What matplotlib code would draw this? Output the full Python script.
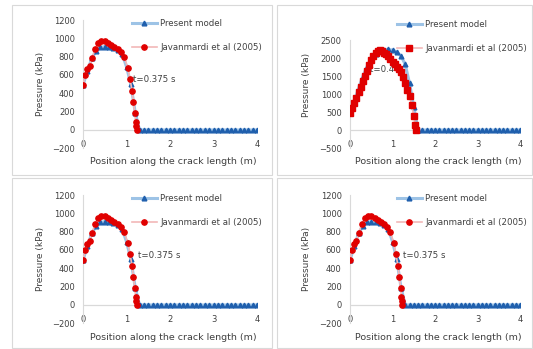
import matplotlib
matplotlib.use("Agg")
import matplotlib.pyplot as plt
from matplotlib.patches import Rectangle

# ---- data (kPa vs m) ----
# t = 0.375 s panels
model_x_a = [0.0, 0.1, 0.2, 0.3, 0.4, 0.5, 0.6, 0.7, 0.8, 0.9, 1.0, 1.1, 1.2, 1.3, 1.4,
             1.5, 1.6, 1.7, 1.8, 1.9, 2.0, 2.1, 2.2, 2.3, 2.4, 2.5, 2.6, 2.7, 2.8, 2.9,
             3.0, 3.1, 3.2, 3.3, 3.4, 3.5, 3.6, 3.7, 3.8, 3.9, 4.0]
model_p_a = [490, 640, 780, 860, 900, 910, 905, 895, 875, 830, 690, 500, 190, 0, 0,
             0, 0, 0, 0, 0, 0, 0, 0, 0, 0, 0, 0, 0, 0, 0,
             0, 0, 0, 0, 0, 0, 0, 0, 0, 0, 0]
ref_x_a = [0.0, 0.05, 0.1, 0.15, 0.2, 0.28, 0.35, 0.42, 0.5, 0.58, 0.65, 0.72, 0.8,
           0.88, 0.95, 1.03, 1.08, 1.13, 1.16, 1.19, 1.21, 1.22, 1.23]
ref_p_a = [490, 600, 660, 700, 780, 880, 950, 975, 970, 945, 925, 910, 880,
           850, 800, 675, 560, 420, 305, 185, 90, 40, 0]

# t = 0.4 s panel
model_x_b = [0.0, 0.1, 0.2, 0.3, 0.4, 0.5, 0.6, 0.7, 0.8, 0.9, 1.0, 1.1, 1.2, 1.3, 1.4,
             1.5, 1.6, 1.7, 1.8, 1.9, 2.0, 2.1, 2.2, 2.3, 2.4, 2.5, 2.6, 2.7, 2.8, 2.9,
             3.0, 3.1, 3.2, 3.3, 3.4, 3.5, 3.6, 3.7, 3.8, 3.9, 4.0]
model_p_b = [480, 800, 1150, 1480, 1760, 1980, 2120, 2200, 2230, 2240, 2220, 2170, 2060, 1820, 1300,
             650, 0, 0, 0, 0, 0, 0, 0, 0, 0, 0, 0, 0, 0, 0,
             0, 0, 0, 0, 0, 0, 0, 0, 0, 0, 0]
ref_x_b = [0.0, 0.05, 0.1, 0.15, 0.2, 0.25, 0.3, 0.35, 0.4, 0.45, 0.5, 0.55, 0.6, 0.65,
           0.7, 0.75, 0.8, 0.85, 0.9, 0.95, 1.0, 1.05, 1.1, 1.15, 1.2, 1.25, 1.3, 1.35,
           1.4, 1.45, 1.5, 1.53, 1.55]
ref_p_b = [480, 620, 760, 900, 1050, 1200, 1350, 1500, 1650, 1800, 1950, 2060, 2140, 2190,
           2220, 2200, 2150, 2100, 2050, 1980, 1900, 1830, 1760, 1700, 1600, 1480, 1300, 1120,
           950, 700, 400, 150, 0]

x_ticks = [0, 1, 2, 3, 4]
legend_labels = ["Present model", "Javanmardi et al (2005)"]
xlabel = "Position along the crack length (m)"
ylabel = "Pressure (kPa)"

W, H = 533, 349
fig = plt.figure(figsize=(W / 100, H / 100), dpi=100)
plt.rcParams['font.family'] = 'DejaVu Sans'
txt = '#404040'
grey = '#D9D9D9'


def px_axes(l, t, r, b):
    return fig.add_axes([l / W, 1 - b / H, (r - l) / W, (b - t) / H])


# chart area borders
for (l, t, r, b) in [(12, 5, 272, 175), (277, 5, 532, 175),
                     (12, 178, 272, 348), (277, 178, 532, 348)]:
    fig.add_artist(Rectangle((l / W, 1 - b / H), (r - l) / W, (b - t) / H,
                             transform=fig.transFigure, fill=False,
                             edgecolor=grey, linewidth=0.8))


def panel(box, mx, mp, rx, rp, ylim, ystep, note, note_xy, ref_marker,
          leg_xy, lab_x, lab_y, ylab_xy):
    ax = px_axes(*box)
    ax.plot(mx, mp, color='#9DC3E6', linewidth=2.2, marker='^', markersize=3.4,
            markerfacecolor='#1F5FAD', markeredgecolor='#1F5FAD', label=legend_labels[0], zorder=3)
    ax.plot(rx, rp, color='#F2B8B8', linewidth=1.2, marker=ref_marker, markersize=3.8,
            markerfacecolor='#E00000', markeredgecolor='#E00000', label=legend_labels[1], zorder=4)
    ax.axhline(0, color=grey, linewidth=0.9, zorder=1)
    ax.set_xlim(0, 4)
    ax.set_ylim(*ylim)
    ax.set_xticks(x_ticks)
    ax.set_yticks(list(range(ylim[0], ylim[1] + 1, ystep)))
    for s in ['top', 'right', 'bottom']:
        ax.spines[s].set_visible(False)
    ax.spines['left'].set_color(grey)
    ax.tick_params(axis='both', length=0, labelsize=6, labelcolor=txt)
    ax.tick_params(axis='x', pad=-6)
    ax.tick_params(axis='y', pad=6)
    ax.patch.set_alpha(0)
    ax.text(note_xy[0], note_xy[1], note, fontsize=6.2, color=txt, va='center', ha='left')
    ax.legend(loc='upper left', bbox_to_anchor=(leg_xy[0] / W, 1 - leg_xy[1] / H),
              bbox_transform=fig.transFigure, frameon=False, fontsize=6.2,
              labelcolor=txt, handlelength=2.9, labelspacing=1.75, handletextpad=0.35,
              borderaxespad=0, borderpad=0)
    fig.text(lab_x / W, 1 - lab_y / H, xlabel, fontsize=6.8, color=txt, ha='center', va='center')
    fig.text(ylab_xy[0] / W, 1 - ylab_xy[1] / H, ylabel, fontsize=6.5, color=txt,
             rotation=90, ha='center', va='center')
    return ax


panel((83, 20, 257, 148.3), model_x_a, model_p_a, ref_x_a, ref_p_a, (-200, 1200), 200,
      "t=0.375 s", (1.15, 550), 'o', (132, 19), 173, 162, (41, 84))
panel((350, 40, 520, 148), model_x_b, model_p_b, ref_x_b, ref_p_b, (-500, 2500), 500,
      "t=0.4 s", (0.47, 1670), 's', (397, 20), 438, 162, (306, 85))
panel((83, 195, 257, 323.3), model_x_a, model_p_a, ref_x_a, ref_p_a, (-200, 1200), 200,
      "t=0.375 s", (1.26, 545), 'o', (132, 194), 173, 337, (41, 259))
panel((350, 195, 520, 323.3), model_x_a, model_p_a, ref_x_a, ref_p_a, (-200, 1200), 200,
      "t=0.375 s", (1.25, 545), 'o', (397, 194), 438, 337, (307, 259))

fig.savefig("out.png", dpi=100)
